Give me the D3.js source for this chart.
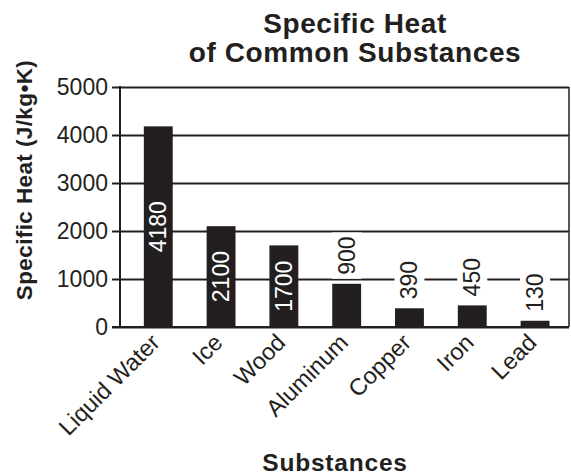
<!DOCTYPE html>
<html>
<head>
<meta charset="utf-8">
<script src="https://cdn.jsdelivr.net/npm/d3@7/dist/d3.min.js"></script>
<style>
  html, body { margin: 0; padding: 0; background: #fff; }
  svg { display: block; font-family: "Liberation Sans", Arial, Helvetica, sans-serif; }
</style>
</head>
<body>
<svg id="chart" width="571" height="475"></svg>
<script>
// Specific heat of common substances, J/(kg·K)
const substances = ["Liquid Water", "Ice", "Wood", "Aluminum", "Copper", "Iron", "Lead"];
const specificHeat = [4180, 2100, 1700, 900, 390, 450, 130];
const yTicks = [0, 1000, 2000, 3000, 4000, 5000];

const ink = "#231f20";
const svg = d3.select("#chart");
const margin = { top: 87, right: 2, bottom: 148, left: 120 };
const W = 571, H = 475;

const x = d3.scaleBand()
  .domain(substances)
  .range([margin.left, W - margin.right])
  .paddingInner(0.54)
  .paddingOuter(0.345)
  .align(0.55);

const y = d3.scaleLinear()
  .domain([0, 5000])
  .range([H - margin.bottom, margin.top]);

// Horizontal grid lines with outward ticks
const yAxis = svg.append("g")
  .attr("transform", `translate(${margin.left},0)`)
  .call(d3.axisLeft(y).tickValues(yTicks).tickFormat(d3.format("d"))
    .tickSizeInner(-(W - margin.right - margin.left)).tickSizeOuter(0).tickPadding(12));
yAxis.select(".domain").remove();
yAxis.selectAll(".tick line")
  .attr("x1", -8)
  .attr("stroke", ink).attr("stroke-width", 2);
yAxis.selectAll(".tick text")
  .attr("fill", ink)
  .attr("font-size", 23)
  .attr("font-family", "Liberation Sans, Arial, sans-serif");

// Left and right frame edges
svg.append("line")
  .attr("x1", margin.left).attr("x2", margin.left)
  .attr("y1", y(5000) - 1).attr("y2", y(0) + 1)
  .attr("stroke", ink).attr("stroke-width", 2);
svg.append("line")
  .attr("x1", W - margin.right).attr("x2", W - margin.right)
  .attr("y1", y(5000)).attr("y2", y(0))
  .attr("stroke", ink).attr("stroke-width", 1.5);

// Bars
svg.append("g").selectAll("rect")
  .data(substances)
  .join("rect")
  .attr("x", d => x(d))
  .attr("width", x.bandwidth())
  .attr("y", (d, i) => y(specificHeat[i]))
  .attr("height", (d, i) => y(0) - y(specificHeat[i]))
  .attr("fill", ink);

// Redraw the baseline on top of the bars
svg.append("line")
  .attr("x1", margin.left - 8).attr("x2", W - margin.right)
  .attr("y1", y(0)).attr("y2", y(0))
  .attr("stroke", ink).attr("stroke-width", 2);

// Value labels: inside tall bars (white), above short bars (with white backing)
const labelG = svg.append("g");
substances.forEach((s, i) => {
  const v = specificHeat[i];
  const cx = x(s) + x.bandwidth() / 2;
  const top = y(v);
  const barH = y(0) - top;
  const txt = String(v);
  const probe = labelG.append("text").attr("font-size", 23).text(txt);
  const len = probe.node().getComputedTextLength();
  probe.remove();
  if (barH > len + 20) {
    const cy = top + barH / 2;
    labelG.append("text")
      .attr("transform", `translate(${cx + 8},${cy}) rotate(-90)`)
      .attr("text-anchor", "middle")
      .attr("font-size", 23)
      .attr("fill", "#fff")
      .text(txt);
  } else {
    const bottom = top - 9;
    labelG.append("rect")
      .attr("x", cx - 15).attr("width", 30)
      .attr("y", bottom - len - 4).attr("height", len + 8)
      .attr("fill", "#fff");
    labelG.append("text")
      .attr("transform", `translate(${cx + 8},${bottom}) rotate(-90)`)
      .attr("text-anchor", "start")
      .attr("font-size", 23)
      .attr("fill", ink)
      .text(txt);
  }
});

// Category labels, rotated
svg.append("g").selectAll("text")
  .data(substances)
  .join("text")
  .attr("transform", d => `translate(${x(d) + x.bandwidth() / 2 + 3},${y(0) + 17}) rotate(-45)`)
  .attr("text-anchor", "end")
  .attr("font-size", 23.5)
  .attr("fill", ink)
  .text(d => d);

// Title
const title = svg.append("text")
  .attr("text-anchor", "middle")
  .attr("font-size", 28)
  .attr("font-weight", "bold")
  .attr("letter-spacing", 0.6)
  .attr("fill", ink);
title.append("tspan").attr("x", 355).attr("y", 33).text("Specific Heat");
title.append("tspan").attr("x", 355).attr("y", 62).text("of Common Substances");

// Axis titles
svg.append("text")
  .attr("x", 335).attr("y", 471)
  .attr("text-anchor", "middle")
  .attr("font-size", 24.5)
  .attr("font-weight", "bold")
  .attr("letter-spacing", 0.8)
  .attr("fill", ink)
  .text("Substances");

svg.append("text")
  .attr("transform", "translate(32,180) rotate(-90)")
  .attr("text-anchor", "middle")
  .attr("font-size", 22.5)
  .attr("font-weight", "bold")
  .attr("letter-spacing", 0.4)
  .attr("fill", ink)
  .text("Specific Heat (J/kg•K)");
</script>
</body>
</html>
